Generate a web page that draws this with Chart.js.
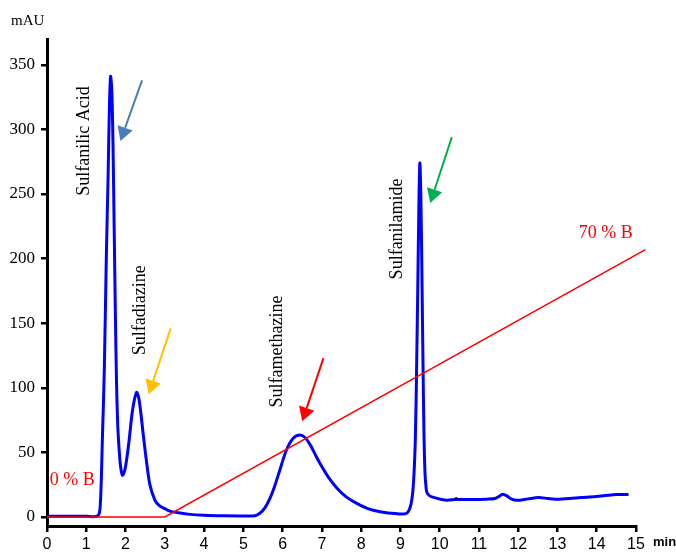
<!DOCTYPE html>
<html>
<head>
<meta charset="utf-8">
<title>Sulfonamide chromatogram</title>
<script src="https://cdn.jsdelivr.net/npm/chart.js@4.4.1/dist/chart.umd.min.js"></script>
<style>
  html, body { margin: 0; padding: 0; background: #fff; }
</style>
</head>
<body>
<canvas id="myChart" width="676" height="552"></canvas>
<script>
// retention time (min) and detector signal (mAU)
const timeMin = [0, 0.5, 1.0, 1.30, 1.36, 1.41, 1.46, 1.51, 1.555, 1.59, 1.62, 1.65, 1.68, 1.71, 1.74, 1.77,
    1.80, 1.835, 1.87, 1.92, 1.98, 2.04, 2.09, 2.18, 2.28, 2.33, 2.38, 2.45, 2.53, 2.62, 2.75, 2.87, 3.0,
    3.13, 3.35, 3.64, 4.0, 4.5, 5.0, 5.3, 5.42, 5.55, 5.68, 5.80, 5.93, 6.10, 6.27, 6.44, 6.57, 6.70, 6.82,
    6.95, 7.16, 7.38, 7.62, 7.89, 8.17, 8.48, 8.86, 9.16, 9.27, 9.33, 9.38, 9.415, 9.445, 9.47, 9.495,
    9.52, 9.55, 9.575, 9.60, 9.625, 9.65, 9.67, 9.72, 9.80, 10.05, 10.2, 10.42, 10.8, 11.2, 11.41, 11.52,
    11.60, 11.70, 11.82, 11.97, 12.25, 12.52, 12.75, 12.94, 13.3, 13.62, 14.05, 14.47, 14.81];
const signalMAU = [0.5, 0.5, 0.5, 1, 11, 60, 115, 200, 262, 318, 341, 330, 290, 225, 160, 105,
    72, 53, 40, 32.3, 36, 47, 59, 83, 96.4, 93, 83, 64, 43.9, 25, 12.9, 8.5, 6.5,
    4.5, 3.2, 2.0, 1.3, 0.9, 0.8, 1.0, 2.9, 7, 14.5, 24, 36.4, 52, 61, 63.5, 61.5, 56, 49,
    41.5, 31, 22.5, 15.5, 10.5, 6.5, 4.1, 2.6, 2.9, 10, 25, 60, 120, 183, 240, 274,
    250, 183, 120, 65, 35, 24, 19.4, 17, 15.5, 13.5, 13, 13.5, 13.5, 13.8, 14.3, 16,
    17.6, 16.5, 14, 12.9, 14, 15, 14.3, 13.7, 14.3, 15, 16, 17.4, 17.4];

// small black speck on the baseline
const speckTime = [10.42];
const speckMAU = [14.3];

// %B gradient, plotted in mAU units where it sat on the original
const gradientTime = [0, 3, 15.24];
const gradientLevel = [0, 0, 207];

const xTicks = [0, 1, 2, 3, 4, 5, 6, 7, 8, 9, 10, 11, 12, 13, 14, 15];
const yTicks = [0, 50, 100, 150, 200, 250, 300, 350];

const peakNames = ['Sulfanilic Acid', 'Sulfadiazine', 'Sulfamethazine', 'Sulfanilamide'];
const peakLabelTime = [0.96, 2.38, 5.86, 8.93];
const peakLabelMAU = [291, 160, 128, 223];

const arrowColors = ['#4a7ebb', '#ffc000', '#ff0000', '#00b050'];
const arrowFrom = [[2.42, 338], [3.15, 146], [7.04, 123], [10.31, 294]];
const arrowTo = [[1.87, 291], [2.59, 95], [6.50, 74], [9.76, 243]];

const gradientNames = ['0 % B', '70 % B'];
const gradientLabelTime = [0.07, 13.54];
const gradientLabelMAU = [28.4, 219.8];

const serif = "'Liberation Serif', 'Times New Roman', serif";
const sans = "'Liberation Sans', Arial, sans-serif";

function toPoints(xs, ys) {
    return xs.map(function(x, i) {
        return { x: x, y: ys[i] };
    });
}

function drawArrow(ctx, x1, y1, x2, y2, color) {
    const dx = x2 - x1, dy = y2 - y1;
    const len = Math.sqrt(dx * dx + dy * dy);
    const ux = dx / len, uy = dy / len;
    const headLen = 14, headHalf = 8;
    const bx = x2 - ux * headLen, by = y2 - uy * headLen;
    ctx.strokeStyle = color;
    ctx.fillStyle = color;
    ctx.lineWidth = 2;
    ctx.beginPath();
    ctx.moveTo(x1, y1);
    ctx.lineTo(bx, by);
    ctx.stroke();
    ctx.beginPath();
    ctx.moveTo(x2, y2);
    ctx.lineTo(bx - uy * headHalf, by + ux * headHalf);
    ctx.lineTo(bx + uy * headHalf, by - ux * headHalf);
    ctx.closePath();
    ctx.fill();
}

const annotations = {
    id: 'annotations',
    afterDraw(chart) {
        const ctx = chart.ctx;
        const xs = chart.scales.x, ys = chart.scales.y;
        const area = chart.chartArea;
        ctx.save();

        // peak names, rotated to read upwards
        ctx.fillStyle = '#000';
        ctx.font = '18px ' + serif;
        ctx.textAlign = 'center';
        ctx.textBaseline = 'middle';
        for (let i = 0; i < peakNames.length; i++) {
            ctx.save();
            ctx.translate(xs.getPixelForValue(peakLabelTime[i]), ys.getPixelForValue(peakLabelMAU[i]));
            ctx.rotate(-Math.PI / 2);
            ctx.fillText(peakNames[i], 0, 0);
            ctx.restore();
        }

        for (let i = 0; i < arrowColors.length; i++) {
            drawArrow(ctx,
                xs.getPixelForValue(arrowFrom[i][0]), ys.getPixelForValue(arrowFrom[i][1]),
                xs.getPixelForValue(arrowTo[i][0]), ys.getPixelForValue(arrowTo[i][1]),
                arrowColors[i]);
        }

        ctx.fillStyle = '#ff0000';
        ctx.textAlign = 'left';
        for (let i = 0; i < gradientNames.length; i++) {
            ctx.fillText(gradientNames[i], xs.getPixelForValue(gradientLabelTime[i]), ys.getPixelForValue(gradientLabelMAU[i]));
        }

        // axis units
        ctx.fillStyle = '#000';
        ctx.font = '15px ' + serif;
        ctx.fillText('mAU', area.left - 36, area.top - 18);
        ctx.font = 'bold 13px ' + sans;
        ctx.fillText('min', area.right + 17, area.bottom + 16);
        ctx.restore();
    }
};

const ctx = document.getElementById('myChart').getContext('2d');
const myChart = new Chart(ctx, {
    type: 'line',
    data: {
        datasets: [{
            label: 'gradient',
            data: toPoints(gradientTime, gradientLevel),
            borderColor: '#ff0000',
            borderWidth: 1.5,
            pointRadius: 0,
            tension: 0,
            clip: false,
            order: 0
        }, {
            label: 'speck',
            data: toPoints(speckTime, speckMAU),
            showLine: false,
            pointRadius: 1.6,
            pointBackgroundColor: '#000',
            pointBorderWidth: 0,
            order: 0
        }, {
            label: 'signal',
            data: toPoints(timeMin, signalMAU),
            borderColor: '#0000ff',
            borderWidth: 3,
            pointRadius: 0,
            tension: 0.3,
            order: 1
        }]
    },
    options: {
        responsive: false,
        animation: false,
        layout: {
            padding: { top: 39, right: 40, left: 0, bottom: 0 }
        },
        plugins: {
            legend: { display: false },
            tooltip: { enabled: false }
        },
        scales: {
            x: {
                type: 'linear',
                min: 0,
                max: 15,
                afterBuildTicks: function(scale) {
                    scale.ticks = xTicks.map(function(v) { return { value: v }; });
                },
                afterFit: function(scale) { scale.height = 26; },
                grid: { drawOnChartArea: false, color: '#000', lineWidth: 2.5, tickLength: 6 },
                border: { color: '#000', width: 3 },
                ticks: {
                    color: '#000',
                    padding: 3,
                    maxRotation: 0,
                    autoSkip: false,
                    font: { family: sans, size: 16 }
                }
            },
            y: {
                min: -7,
                max: 370,
                afterBuildTicks: function(scale) {
                    scale.ticks = yTicks.map(function(v) { return { value: v }; });
                },
                afterFit: function(scale) { scale.width = 47; },
                grid: { drawOnChartArea: false, color: '#000', lineWidth: 2.5, tickLength: 6 },
                border: { color: '#000', width: 3 },
                ticks: {
                    color: '#000',
                    padding: 6,
                    font: { family: serif, size: 17 }
                }
            }
        }
    },
    plugins: [annotations]
});
</script>
</body>
</html>
